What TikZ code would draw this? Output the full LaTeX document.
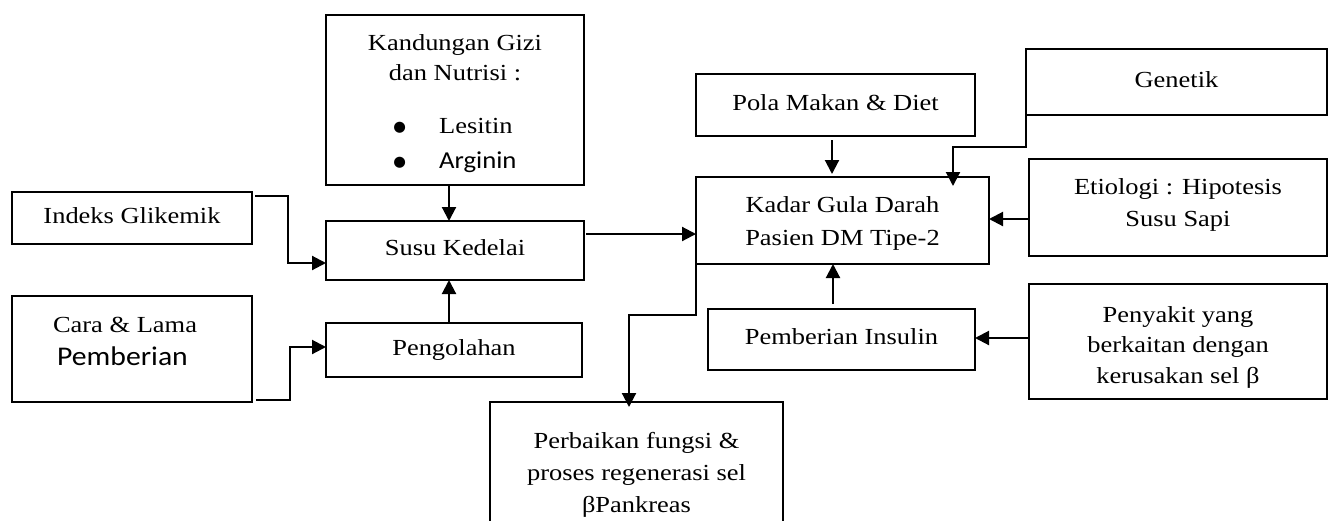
\documentclass[tikz,border=0pt]{standalone}
\usepackage{fontspec}
\setmainfont[FakeStretch=1.15]{Liberation Serif}
\newfontfamily\carlito[FakeStretch=1.1]{Carlito}
\newfontfamily\dejavu{DejaVu Sans}
\usetikzlibrary{arrows.meta}
\newcommand\bigbul{\raisebox{1.5pt}{\dejavu\fontsize{14.5}{14.5}\selectfont ●}}
\newcommand\tp[1]{\rule{0pt}{#1pt}}
\newcommand\bt[1]{\rule[-#1pt]{0pt}{0pt}}
\begin{document}
\begin{tikzpicture}[x=1pt,y=-1pt,
  box/.style={draw, line width=1.5pt, inner sep=0pt, outer sep=0pt, font=\fontsize{23}{33}\selectfont},
  mbox/.style={box, align=center},
  one/.style={text height=18.5pt, text depth=8.5pt},
  arr/.style={draw, line width=2.1pt, -{Triangle[length=14pt,width=14pt]}},
  ]
\clip (0,0) rectangle (1331,520);
\fill[white] (0,0) rectangle (1331,520);

% left column
\node[box,one,minimum width=240pt,minimum height=52pt] (indeks) at (132,218) {Indeks Glikemik};
\node[mbox,minimum width=240pt,minimum height=106pt] (cara) at (132,349)
  {\tp{20}Cara \& Lama\kern14pt\\{\carlito\fontsize{27}{33}\selectfont Pemberian}\kern19pt\bt{21}};

% middle column
\node[mbox,font=\fontsize{23}{30}\selectfont,minimum width=258pt,minimum height=170pt] (kand) at (455,100)
  {\tp{27}Kandungan Gizi\\dan Nutrisi :\\[23pt]%
   \begin{tabular}[t]{@{}l@{\hspace{33pt}}l@{}}\bigbul & Lesitin\\[5pt]
   \bigbul & {\carlito\fontsize{24.3}{30}\selectfont Arginin}\bt{9}\end{tabular}};
\node[box,one,minimum width=258pt,minimum height=59pt] (susu) at (455,250.5) {Susu Kedelai};
\node[box,one,minimum width=256pt,minimum height=54pt] (peng) at (454,350) {Pengolahan};
\node[mbox,font=\fontsize{23}{32}\selectfont,minimum width=293pt,minimum height=146pt] (perb) at (636.5,475)
  {\tp{20}Perbaikan fungsi \&\\proses regenerasi sel\\βPankreas\bt{10}};

% right-middle column
\node[box,one,minimum width=279pt,minimum height=62pt] (pola) at (835.5,105) {Pola Makan \& Diet};
\node[mbox,minimum width=293pt,minimum height=87pt] (kadar) at (842.5,220.5)
  {\tp{22}Kadar Gula Darah\\Pasien DM Tipe-2\bt{6}};
\node[box,one,minimum width=267pt,minimum height=61pt] (ins) at (841.5,339.5) {Pemberian Insulin};

% right column
\node[box,one,minimum width=301pt,minimum height=66pt] (gen) at (1176.5,82) {Genetik};
\node[mbox,font=\fontsize{23}{32}\selectfont,minimum width=298pt,minimum height=97pt] (etio) at (1178,207.5)
  {\tp{20}Etiologi : Hipotesis\\Susu Sapi\bt{15}};
\node[mbox,font=\fontsize{23}{30.5}\selectfont,minimum width=298pt,minimum height=115pt] (peny) at (1178,341.5)
  {\tp{28}Penyakit yang\\berkaitan dengan\\kerusakan sel β\bt{6}};

% connectors
\draw[arr] ([xshift=3pt,yshift=-4pt]indeks.north east) -- ++(33,0) |- ([yshift=-12.5pt]susu.west);
\draw[arr] ([xshift=4pt,yshift=2pt]cara.south east) -- ++(34,0) |- ([yshift=3pt]peng.west);
\draw[arr] ([xshift=-6pt]kand.south) coordinate (k1) -- (k1 |- susu.north);
\draw[arr] ([xshift=-5pt,yshift=1pt]peng.north) coordinate (g1) -- (g1 |- susu.south);
\draw[arr] ([xshift=2pt,yshift=16.5pt]susu.east) coordinate (s1) -- (s1 -| kadar.west);
\draw[arr,shorten >=-5pt] ([yshift=-46pt]kadar.north west) -- ++(0,92) -| ([xshift=-7.5pt]perb.north);
\draw[arr,shorten >=3pt] ([xshift=-3.5pt,yshift=-4pt]pola.south) coordinate (o1) -- (o1 |- kadar.north);
\draw[arr,shorten >=-9pt] ([yshift=-25pt]gen.west) -- ++(0,40) -| ([xshift=110.5pt]kadar.north);
\draw[arr] ([yshift=-11.5pt]etio.west) coordinate (e1) -- (e1 -| kadar.east);
\draw[arr] ([xshift=-8.5pt,yshift=5pt]ins.north) coordinate (i1) -- (i1 |- kadar.south);
\draw[arr] ([yshift=3.5pt]peny.west) coordinate (p1) -- (p1 -| ins.east);
\end{tikzpicture}
\end{document}
